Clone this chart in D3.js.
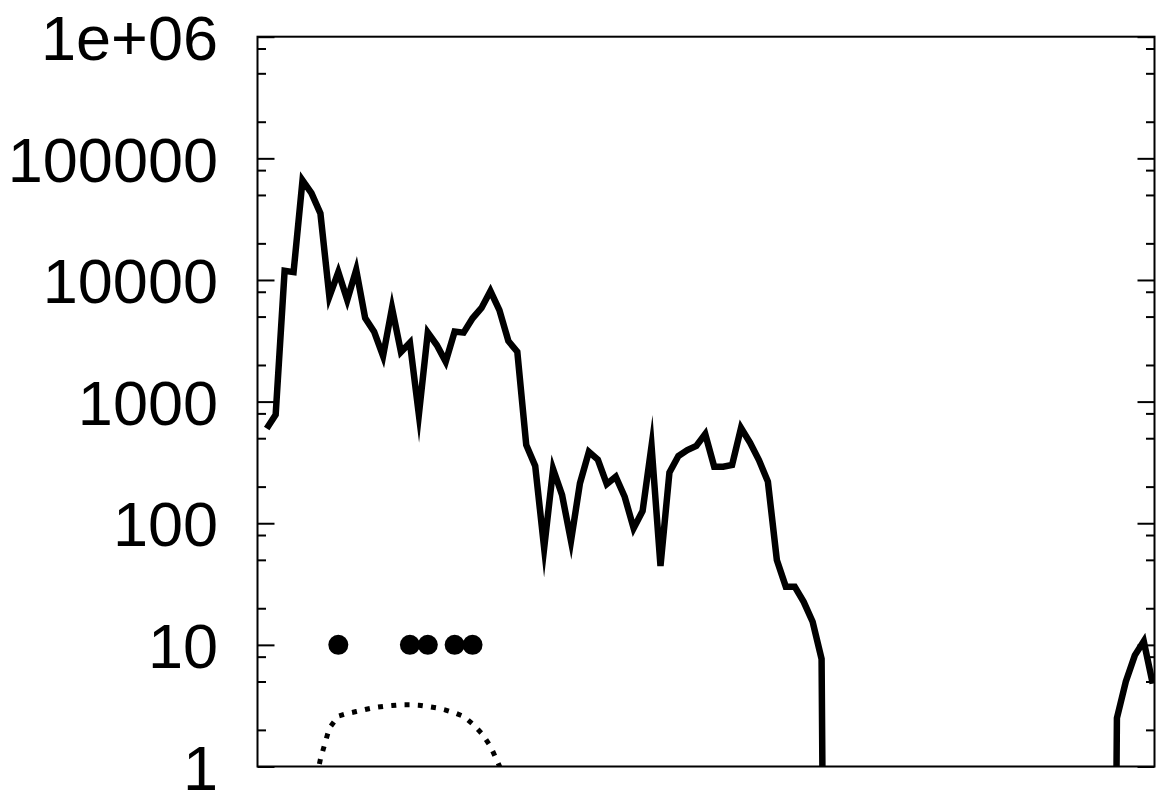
<!DOCTYPE html>
<html>
<head>
<meta charset="utf-8">
<script src="https://cdn.jsdelivr.net/npm/d3@7"></script>
<style>
  html, body { margin: 0; padding: 0; background: #fff; }
  svg { display: block; }
</style>
</head>
<body>
<svg id="chart" width="1158" height="790"></svg>
<script>
// ---- data ----
// solid series: value at x = 1..100 (0 = no count, falls below the axis)
const solidValues = [
  600, 780, 11900, 11600, 66000, 51800, 35300, 7300, 11600, 6840,
  12100, 4870, 3760, 2370, 5890, 2560, 3050, 780, 3700, 2920,
  2130, 3760, 3690, 4840, 5890, 8100, 5660, 3150, 2570, 440,
  296, 62.5, 279, 171, 71.5, 213, 387, 334, 210, 241,
  165, 90.8, 126, 432, 44.5, 261, 357, 400, 432, 541,
  292, 292, 301, 607, 461, 331, 220, 49.9, 30.1, 30.1,
  22.6, 15.5, 7.65, 0, 0, 0, 0, 0, 0, 0,
  0, 0, 0, 0, 0, 0, 0, 0, 0, 0,
  0, 0, 0, 0, 0, 0, 0, 0, 0, 0,
  0, 0, 0, 0, 0, 2.5, 5.0, 8.2, 10.7, 4.8
];
const solidX = d3.range(1, solidValues.length + 1);

// dotted fitted curve
const dottedX = [6, 7, 8, 9, 10, 11, 12, 13, 14, 15, 16, 17, 18, 19, 20, 21, 22, 23, 24, 25, 26, 27, 28];
const dottedValues = [0.5, 1.15, 2.07, 2.6, 2.73, 2.83, 2.94, 3.05, 3.12, 3.17, 3.22, 3.22,
                      3.19, 3.11, 3.03, 2.91, 2.76, 2.58, 2.24, 1.88, 1.47, 1.01, 0.3];

// isolated points
const pointX = [9, 17, 19, 22, 24];
const pointValues = [10, 10, 10, 10, 10];

// axis
const yMajorTicks = [1, 10, 100, 1000, 10000, 100000, 1000000];
const yTickLabels = ["1", "10", "100", "1000", "10000", "100000", "1e+06"];
const yMinorTicks = [2, 5, 8, 20, 50, 80, 200, 500, 800, 2000, 5000, 8000,
                     20000, 50000, 80000, 200000, 500000, 800000];
const xDomain = [-0.03, 100.2];
const yDomain = [1, 1000000];

// ---- layout ----
const plotL = 257.5, plotR = 1154.5, plotT = 36.7, plotB = 766.5;
const FLOOR = 1e-9;

const svg = d3.select("#chart");
svg.append("rect").attr("width", 1158).attr("height", 790).attr("fill", "#fff");

const x = d3.scaleLinear().domain(xDomain).range([plotL, plotR]);
const y = d3.scaleLog().domain(yDomain).range([plotB, plotT]);

svg.append("clipPath").attr("id", "plotclip")
  .append("rect").attr("x", plotL).attr("y", plotT)
  .attr("width", plotR - plotL).attr("height", plotB - plotT);

// ---- axes (ticks inward on both sides) ----
const fmt = d => yTickLabels[yMajorTicks.indexOf(d)];
const leftAxis = svg.append("g").attr("transform", `translate(${plotL},0)`)
  .call(d3.axisLeft(y).tickValues(yMajorTicks).tickFormat(fmt).tickSize(-17).tickPadding(39.5));
const leftMinor = svg.append("g").attr("transform", `translate(${plotL},0)`)
  .call(d3.axisLeft(y).tickValues(yMinorTicks).tickFormat("").tickSize(-8.5));
const rightAxis = svg.append("g").attr("transform", `translate(${plotR},0)`)
  .call(d3.axisRight(y).tickValues(yMajorTicks).tickFormat("").tickSize(-17));
const rightMinor = svg.append("g").attr("transform", `translate(${plotR},0)`)
  .call(d3.axisRight(y).tickValues(yMinorTicks).tickFormat("").tickSize(-8.5));

[leftAxis, leftMinor, rightAxis, rightMinor].forEach(g => {
  g.select(".domain").remove();
  g.selectAll(".tick line").attr("stroke", "#000").attr("stroke-width", 2);
});
leftAxis.selectAll(".tick text")
  .attr("font-family", "'Liberation Sans', Arial, sans-serif")
  .attr("font-size", 63)
  .attr("fill", "#000")
  .attr("dy", "0.36em");

// frame
svg.append("rect")
  .attr("x", plotL).attr("y", plotT)
  .attr("width", plotR - plotL).attr("height", plotB - plotT)
  .attr("fill", "none").attr("stroke", "#000").attr("stroke-width", 2);

// ---- marks ----
const plot = svg.append("g").attr("clip-path", "url(#plotclip)");

const line = d3.line()
  .x(d => x(d[0]))
  .y(d => y(Math.max(d[1], FLOOR)));

plot.append("path")
  .datum(dottedX.map((xv, k) => [xv, dottedValues[k]]))
  .attr("d", line)
  .attr("fill", "none")
  .attr("stroke", "#000")
  .attr("stroke-width", 5)
  .attr("stroke-dasharray", "5 8.3")
  .attr("stroke-linecap", "butt");

plot.append("path")
  .datum(solidX.map((xv, k) => [xv, solidValues[k]]))
  .attr("d", line)
  .attr("fill", "none")
  .attr("stroke", "#000")
  .attr("stroke-width", 6.5)
  .attr("stroke-linejoin", "miter")
  .attr("stroke-miterlimit", 10);

plot.selectAll("circle.pt")
  .data(pointX.map((xv, k) => [xv, pointValues[k]]))
  .join("circle")
  .attr("class", "pt")
  .attr("cx", d => x(d[0]))
  .attr("cy", d => y(d[1]))
  .attr("r", 10)
  .attr("fill", "#000");
</script>
</body>
</html>
